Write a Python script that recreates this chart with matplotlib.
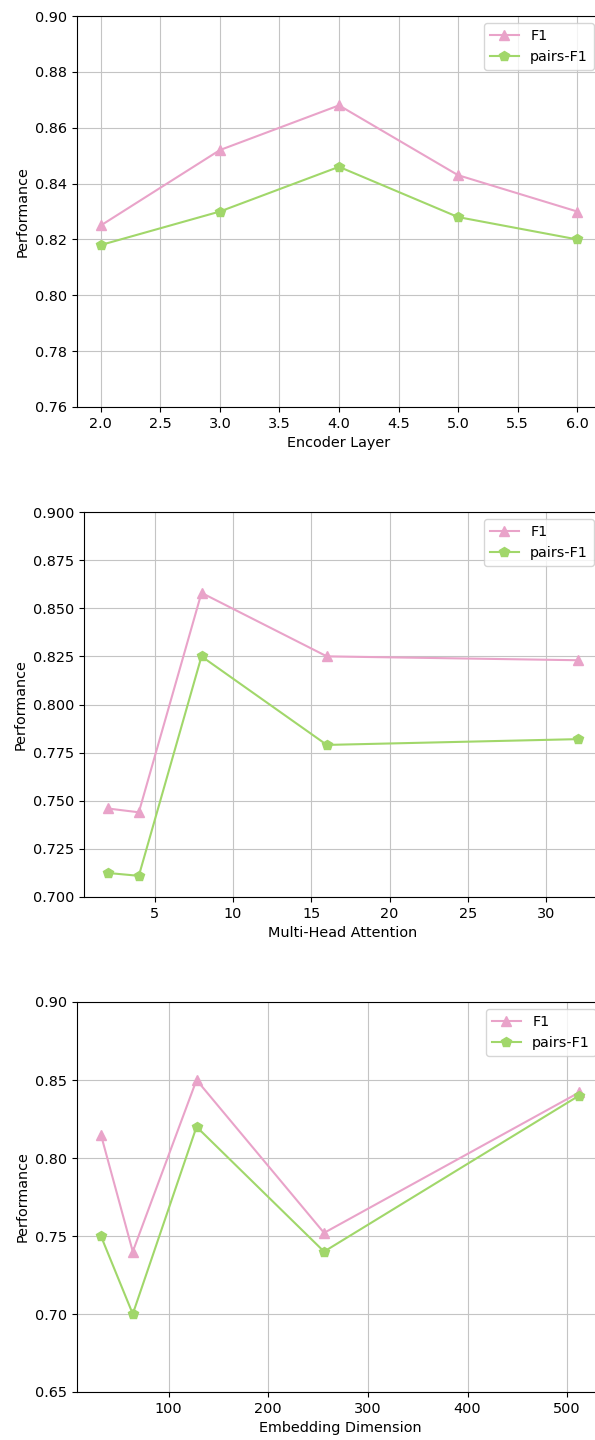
import matplotlib
matplotlib.use("Agg")
import matplotlib.pyplot as plt

plt.rcParams["font.size"] = 10.4

pink = "#e9a3c9"
green = "#a1d76a"

enc_x = [2, 3, 4, 5, 6]
enc_f1 = [0.825, 0.852, 0.868, 0.843, 0.830]
enc_pairs = [0.818, 0.830, 0.846, 0.828, 0.820]

head_x = [2, 4, 8, 16, 32]
head_f1 = [0.746, 0.744, 0.858, 0.825, 0.823]
head_pairs = [0.7125, 0.711, 0.825, 0.779, 0.782]

emb_x = [32, 64, 128, 256, 512]
emb_f1 = [0.815, 0.740, 0.850, 0.752, 0.842]
emb_pairs = [0.750, 0.700, 0.820, 0.740, 0.840]

W, H = 595, 1440
fig = plt.figure(figsize=(W / 100, H / 100), dpi=100)

panels = [
    (enc_x, enc_f1, enc_pairs, "Encoder Layer", (0.76, 0.90), (77, 16, 601, 407)),
    (head_x, head_f1, head_pairs, "Multi-Head Attention", (0.70, 0.90), (84, 512, 601, 897)),
    (emb_x, emb_f1, emb_pairs, "Embedding Dimension", (0.65, 0.90), (77, 1002, 603, 1392)),
]

for x, f1, pairs, xlabel, ylim, (l, t, r, b) in panels:
    ax = fig.add_axes([l / W, 1 - b / H, (r - l) / W, (b - t) / H])
    ax.plot(x, f1, marker="^", color=pink, label="F1", markersize=7)
    ax.plot(x, pairs, marker="p", color=green, label="pairs-F1", markersize=7)
    ax.set_ylim(*ylim)
    ax.set_xlabel(xlabel)
    ax.set_ylabel("Performance")
    ax.grid(True, color="#c4c4c4")
    ax.legend(loc="upper right")

fig.savefig("out.png", dpi=100)
